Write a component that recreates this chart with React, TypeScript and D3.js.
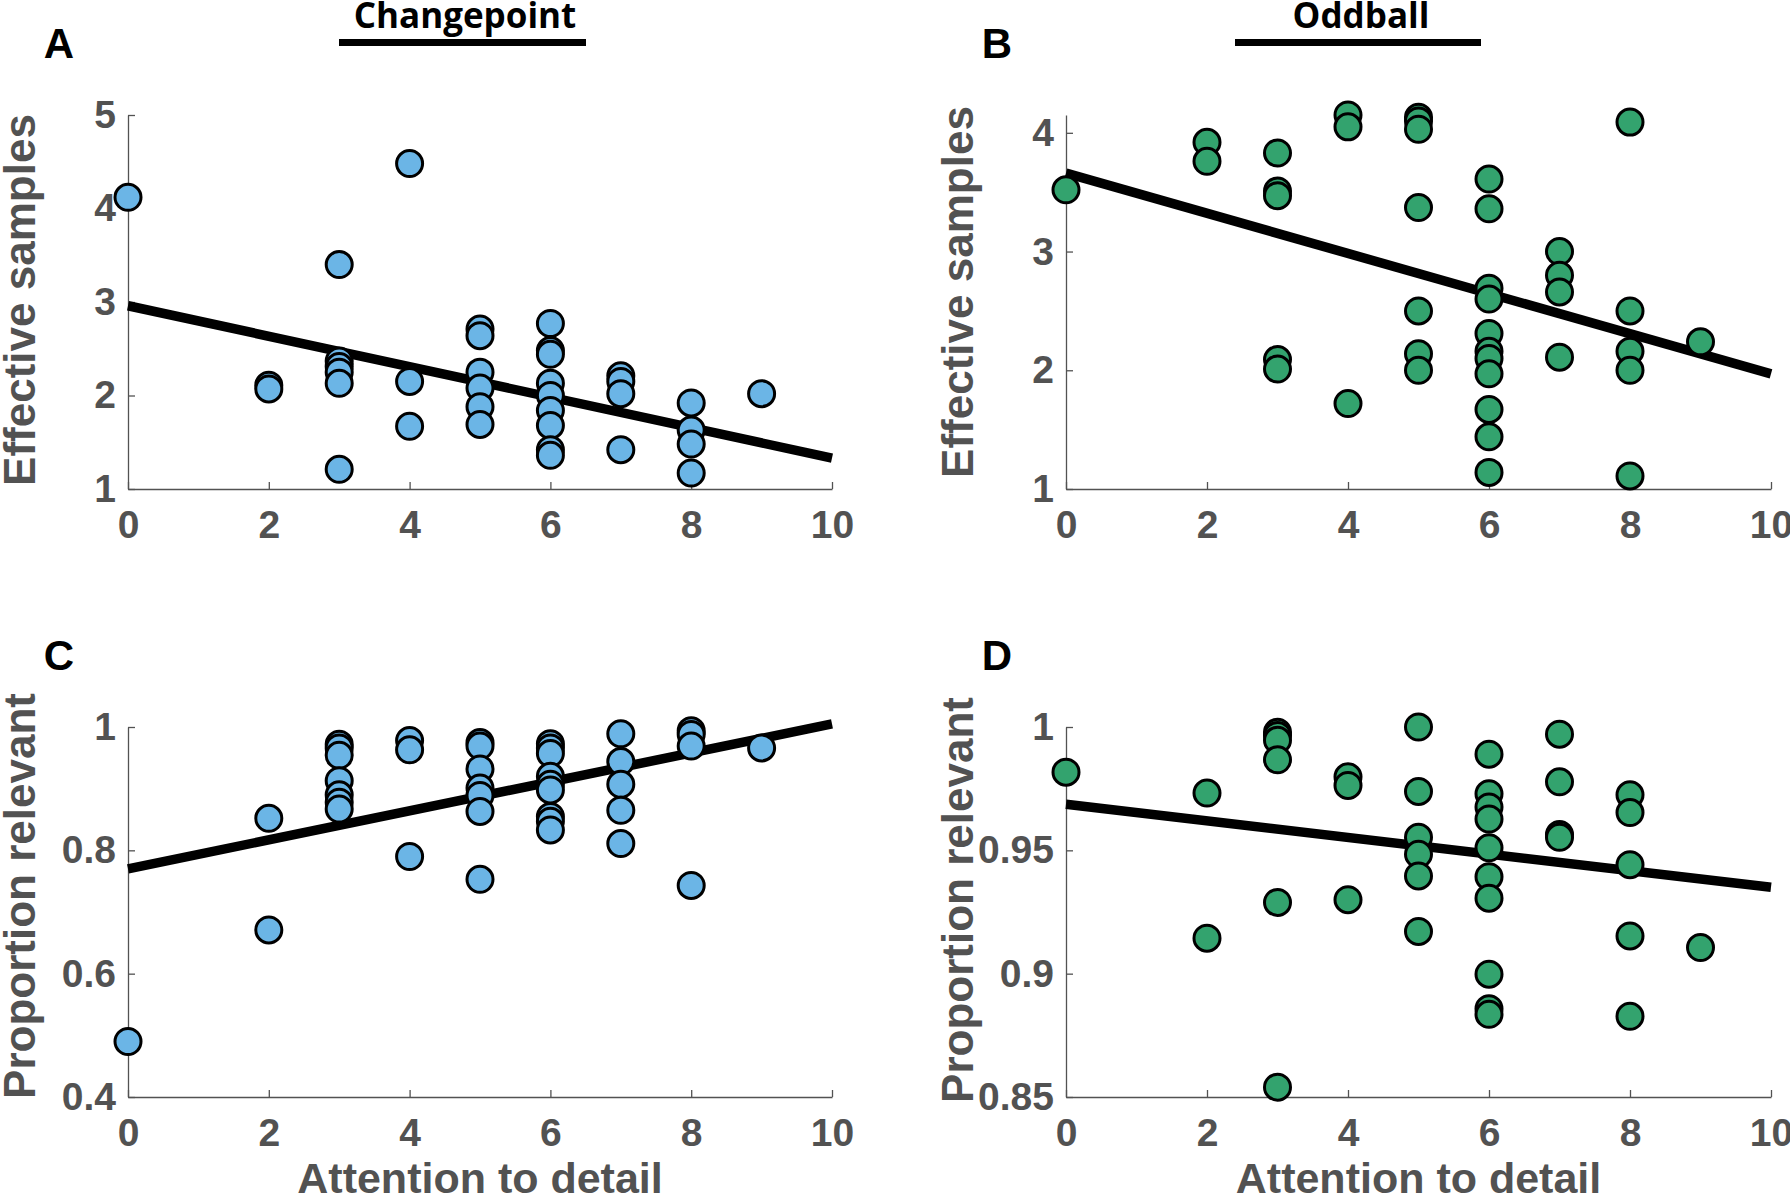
import React, { useEffect, useRef } from 'react';
import * as d3 from 'd3';

const cpSamplesX = [0, 2, 2, 3, 3, 3, 3, 3, 3, 4, 4, 4, 5, 5, 5, 5, 5, 5, 6, 6, 6, 6, 6, 6, 6, 6, 6, 7, 7, 7, 7, 8, 8, 8, 8, 9];
const cpSamplesY = [4.12, 2.11, 2.07, 3.4, 2.37, 2.31, 2.25, 2.13, 1.21, 4.48, 2.15, 1.67, 2.71, 2.64, 2.25, 2.08, 1.88, 1.69, 2.77, 2.48, 2.44, 2.13, 2.0, 1.84, 1.68, 1.42, 1.36, 2.21, 2.15, 2.02, 1.42, 1.92, 1.63, 1.48, 1.17, 2.02];

const obSamplesX = [0, 2, 2, 3, 3, 3, 3, 3, 4, 4, 4, 5, 5, 5, 5, 5, 5, 5, 6, 6, 6, 6, 6, 6, 6, 6, 6, 6, 6, 7, 7, 7, 7, 8, 8, 8, 8, 8, 9];
const obSamplesY = [3.52, 3.92, 3.76, 3.83, 3.51, 3.47, 2.09, 2.01, 4.15, 4.05, 1.72, 4.13, 4.1, 4.03, 3.37, 2.5, 2.14, 2.0, 3.61, 3.36, 2.69, 2.6, 2.31, 2.16, 2.1, 1.97, 1.67, 1.44, 1.14, 3.0, 2.8, 2.66, 2.11, 4.09, 2.5, 2.16, 2.0, 1.11, 2.24];

const cpRelevantX = [0, 2, 2, 3, 3, 3, 3, 3, 3, 3, 4, 4, 4, 5, 5, 5, 5, 5, 5, 5, 6, 6, 6, 6, 6, 6, 6, 6, 6, 7, 7, 7, 7, 7, 8, 8, 8, 8, 9];
const cpRelevantY = [0.49, 0.852, 0.671, 0.972, 0.966, 0.954, 0.913, 0.89, 0.878, 0.867, 0.978, 0.963, 0.79, 0.975, 0.969, 0.932, 0.901, 0.889, 0.863, 0.753, 0.973, 0.966, 0.957, 0.92, 0.907, 0.898, 0.855, 0.847, 0.833, 0.989, 0.944, 0.907, 0.865, 0.811, 0.994, 0.988, 0.969, 0.743, 0.966];

const obRelevantX = [0, 2, 2, 3, 3, 3, 3, 3, 3, 4, 4, 4, 5, 5, 5, 5, 5, 5, 6, 6, 6, 6, 6, 6, 6, 6, 6, 6, 7, 7, 7, 7, 8, 8, 8, 8, 8, 9];
const obRelevantY = [0.9817, 0.9732, 0.9144, 0.9979, 0.9966, 0.9946, 0.9867, 0.9289, 0.854, 0.9798, 0.9763, 0.93, 1.0, 0.9739, 0.9553, 0.9484, 0.9396, 0.9171, 0.989, 0.9729, 0.9676, 0.9627, 0.951, 0.9393, 0.9306, 0.8998, 0.8858, 0.8835, 0.9971, 0.9778, 0.9564, 0.9553, 0.9725, 0.9653, 0.9442, 0.9153, 0.8827, 0.9106];

// regression line value at x = 0 and x = 10
const cpSamplesFit = [2.96, 1.33];
const obSamplesFit = [3.66, 1.97];
const cpRelevantFit = [0.77, 1.005];
const obRelevantFit = [0.9687, 0.935];

const xTicks = [0, 2, 4, 6, 8, 10];
const cpSamplesTicks = [1, 2, 3, 4, 5];
const obSamplesTicks = [1, 2, 3, 4];
const cpRelevantTicks = [0.4, 0.6, 0.8, 1];
const obRelevantTicks = [0.85, 0.9, 0.95, 1];

const BLUE = '#6bb5e6';
const GREEN = '#33a36e';
const GREY = '#525252';
const FONT = '"Liberation Sans", Arial, Helvetica, sans-serif';

const App = () => {
  const ref = useRef(null);

  useEffect(() => {
    drawChart();
  }, []);

  const drawChart = () => {
    const svg = d3.select(ref.current);
    svg.selectAll('*').remove();

    const cols = [[128, 832], [1066, 1771]];
    const rows = [[115, 489], [727, 1097]];

    const panels = [
      { letter: 'A', xs: cpSamplesX, ys: cpSamplesY, fit: cpSamplesFit, yDomain: [1, 5], yTicks: cpSamplesTicks, color: BLUE, col: 0, row: 0, ylabel: 'Effective samples', labelY: 300 },
      { letter: 'B', xs: obSamplesX, ys: obSamplesY, fit: obSamplesFit, yDomain: [1, 4.15], yTicks: obSamplesTicks, color: GREEN, col: 1, row: 0, ylabel: 'Effective samples', labelY: 292 },
      { letter: 'C', xs: cpRelevantX, ys: cpRelevantY, fit: cpRelevantFit, yDomain: [0.4, 1], yTicks: cpRelevantTicks, color: BLUE, col: 0, row: 1, ylabel: 'Proportion relevant', labelY: 896 },
      { letter: 'D', xs: obRelevantX, ys: obRelevantY, fit: obRelevantFit, yDomain: [0.85, 1], yTicks: obRelevantTicks, color: GREEN, col: 1, row: 1, ylabel: 'Proportion relevant', labelY: 900 },
    ];

    panels.forEach(p => {
      const [x0, x1] = cols[p.col];
      const [yTop, yBottom] = rows[p.row];
      const xScale = d3.scaleLinear().domain([0, 10]).range([x0, x1]);
      const yScale = d3.scaleLinear().domain(p.yDomain).range([yBottom, yTop]);

      const g = svg.append('g');

      // axes (ticks pointing inward, box off)
      const xAxis = g.append('g')
        .attr('transform', `translate(0,${yBottom})`)
        .call(d3.axisBottom(xScale).tickValues(xTicks).tickSizeInner(-7).tickSizeOuter(0).tickPadding(21).tickFormat(d3.format('d')));
      const yAxis = g.append('g')
        .attr('transform', `translate(${x0},0)`)
        .call(d3.axisLeft(yScale).tickValues(p.yTicks).tickSizeInner(-7).tickSizeOuter(0).tickPadding(12).tickFormat(d => String(d)));

      [xAxis, yAxis].forEach(a => {
        a.select('.domain').attr('stroke', GREY).attr('stroke-width', 1.3);
        a.selectAll('.tick line').attr('stroke', GREY).attr('stroke-width', 1.3);
        a.selectAll('.tick text')
          .attr('fill', GREY)
          .style('font-family', FONT)
          .style('font-weight', 'bold')
          .style('font-size', '39px');
      });

      // regression line
      g.append('line')
        .attr('x1', xScale(0))
        .attr('y1', yScale(p.fit[0]))
        .attr('x2', xScale(10))
        .attr('y2', yScale(p.fit[1]))
        .attr('stroke', '#000')
        .attr('stroke-width', 9.5);

      // subjects
      g.selectAll('circle')
        .data(p.xs.map((x, i) => [x, p.ys[i]]))
        .enter().append('circle')
        .attr('cx', d => xScale(d[0]))
        .attr('cy', d => yScale(d[1]))
        .attr('r', 13)
        .attr('fill', p.color)
        .attr('stroke', '#000')
        .attr('stroke-width', 3);

      // y label
      g.append('text')
        .attr('transform', `translate(${x0 - 93},${p.labelY}) rotate(-90)`)
        .attr('text-anchor', 'middle')
        .attr('fill', GREY)
        .style('font-family', FONT)
        .style('font-weight', 'bold')
        .style('font-size', '44px')
        .text(p.ylabel);

      // x label on bottom row
      if (p.row === 1) {
        g.append('text')
          .attr('x', (x0 + x1) / 2)
          .attr('y', 1193)
          .attr('text-anchor', 'middle')
          .attr('fill', GREY)
          .style('font-family', FONT)
          .style('font-weight', 'bold')
          .style('font-size', '43px')
          .text('Attention to detail');
      }

      // panel letter
      g.append('text')
        .attr('x', x0 - 69)
        .attr('y', yTop - 57)
        .attr('text-anchor', 'middle')
        .attr('fill', '#000')
        .style('font-family', FONT)
        .style('font-weight', 'bold')
        .style('font-size', '42px')
        .text(p.letter);
    });

    // column titles with bars underneath
    const titles = [
      { text: 'Changepoint', cx: 465, bar: [339, 586] },
      { text: 'Oddball', cx: 1361, bar: [1235, 1481] },
    ];
    titles.forEach(t => {
      svg.append('text')
        .attr('x', t.cx)
        .attr('y', 28)
        .attr('text-anchor', 'middle')
        .attr('fill', '#000')
        .style('font-family', '"Open Sans", sans-serif')
        .style('font-weight', 'bold')
        .style('font-size', '35px')
        .text(t.text);
      svg.append('rect')
        .attr('x', t.bar[0])
        .attr('y', 39)
        .attr('width', t.bar[1] - t.bar[0])
        .attr('height', 7)
        .attr('fill', '#000');
    });
  };

  return (
    <svg
      ref={ref}
      width={1790}
      height={1199}
      style={{ position: 'absolute', left: 0, top: 0, background: '#fff' }}
    />
  );
};

export default App;
